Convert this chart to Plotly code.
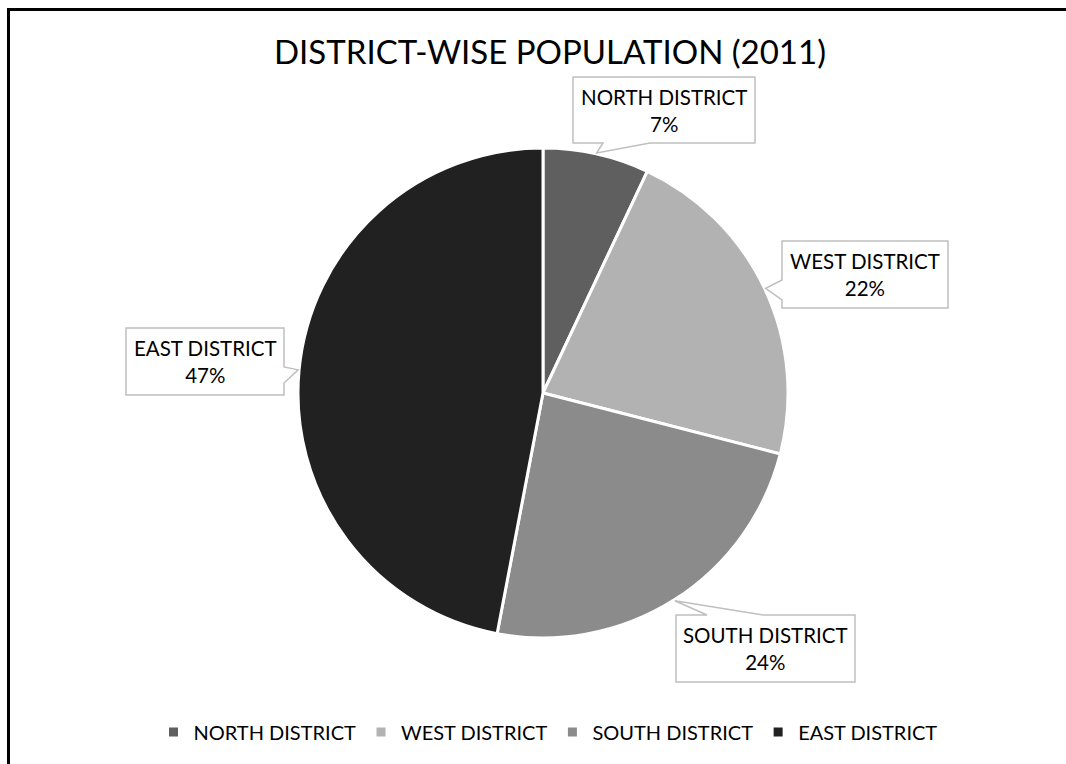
import math
import plotly.graph_objects as go

# District shares of population, 2011 (percent)
districts = ["NORTH DISTRICT", "WEST DISTRICT", "SOUTH DISTRICT", "EAST DISTRICT"]
shares = [7, 22, 24, 47]
slice_colors = ["#5f5f5f", "#b2b2b2", "#8b8b8b", "#212121"]

W, H = 1066, 764
FONT = "Lato, 'Open Sans', sans-serif"

# pie placement in pixels
CX, CY, R = 543, 393, 245

# callout boxes: (x0, y0, x1, y1), side of the tail, tail base span along that side
callouts = {
    "NORTH DISTRICT": ((573, 77, 755, 143), "bottom", (603, 650)),
    "WEST DISTRICT": ((782, 241, 948, 308), "left", (280, 300)),
    "SOUTH DISTRICT": ((676, 615, 855, 682), "top", (707, 763)),
    "EAST DISTRICT": ((126, 328, 284, 395), "right", (367, 383)),
}


def px(x):
    return x / W


def py(y):
    return 1 - y / H


def to_path(pts, closed=True):
    d = "M " + " L ".join(f"{px(x):.5f},{py(y):.5f}" for x, y in pts)
    return d + (" Z" if closed else "")


def callout_path(box, side, span, tip):
    x0, y0, x1, y1 = box
    a, b = span
    tx, ty = tip
    pts = [(x0, y0)]
    if side == "top":
        pts += [(a, y0), (tx, ty), (b, y0)]
    pts.append((x1, y0))
    if side == "right":
        pts += [(x1, a), (tx, ty), (x1, b)]
    pts.append((x1, y1))
    if side == "bottom":
        pts += [(b, y1), (tx, ty), (a, y1)]
    pts.append((x0, y1))
    if side == "left":
        pts += [(x0, b), (tx, ty), (x0, a)]
    return to_path(pts)


fig = go.Figure()
fig.add_trace(go.Pie(
    labels=districts,
    values=shares,
    sort=False,
    direction="clockwise",
    rotation=0,
    marker=dict(colors=slice_colors, line=dict(color="white", width=3)),
    textinfo="none",
    hoverinfo="label+percent",
    domain=dict(x=[px(CX - R), px(CX + R)], y=[py(CY + R), py(CY - R)]),
))

shapes = [
    # chart frame: left and top edges as one open stroke
    dict(type="path", xref="paper", yref="paper",
         path=to_path([(8.5, H + 5), (8.5, 9.5), (W + 5, 9.5)], closed=False),
         line=dict(color="black", width=3), fillcolor="rgba(0,0,0,0)",
         layer="above"),
]
annotations = []

total = sum(shares)
cum = 0
for name, val in zip(districts, shares):
    mid = (cum + val / 2) / total * 2 * math.pi
    cum += val
    tip = (CX + (R + 1) * math.sin(mid), CY - (R + 1) * math.cos(mid))
    box, side, span = callouts[name]
    shapes.append(dict(
        type="path", xref="paper", yref="paper",
        path=callout_path(box, side, span, tip),
        fillcolor="white", line=dict(color="#bfbfbf", width=1.5),
        layer="above",
    ))
    pct = round(val / total * 100)
    annotations.append(dict(
        xref="paper", yref="paper",
        x=px((box[0] + box[2]) / 2), y=py((box[1] + box[3]) / 2),
        xanchor="center", yanchor="middle",
        text=f"{name}<br>{pct}%", showarrow=False, align="center",
        font=dict(family=FONT, size=20.5, color="#000000"),
    ))

fig.update_layout(
    width=W, height=H,
    margin=dict(l=0, r=0, t=0, b=0),
    paper_bgcolor="white",
    plot_bgcolor="white",
    title=dict(
        text="DISTRICT-WISE POPULATION (2011)",
        x=px(550), y=py(52), xanchor="center", yanchor="middle",
        font=dict(family=FONT, size=33, color="#000000"),
    ),
    showlegend=True,
    legend=dict(
        orientation="h",
        x=px(548), y=py(732), xanchor="center", yanchor="middle",
        font=dict(family=FONT, size=20, color="#000000"),
        itemclick=False, itemdoubleclick=False,
    ),
    shapes=shapes,
    annotations=annotations,
)

fig.write_html("out.html")
